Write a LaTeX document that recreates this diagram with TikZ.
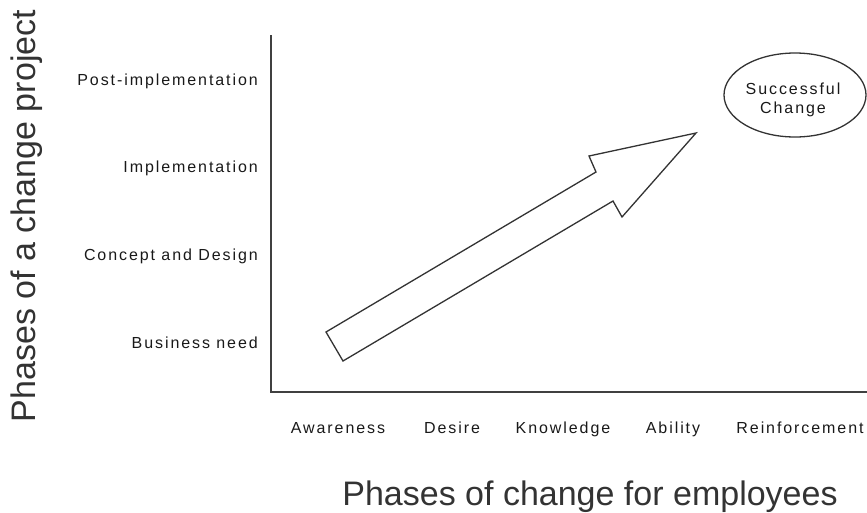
\documentclass[tikz,border=0pt]{standalone}
\usepackage{fontspec}
\setmainfont{Liberation Sans}
\newfontfamily\lblfont[LetterSpace=12]{Liberation Sans}
\usetikzlibrary{shapes.geometric}

\tikzset{
  lbl/.style={font=\lblfont\fontsize{16}{19}\selectfont, text=black!90, inner sep=0pt},
  ttl/.style={font=\fontsize{34}{40}\selectfont, text=black!80, inner sep=0pt},
  axisline/.style={draw=black!75, line width=2pt},
  outline/.style={draw=black!80, line width=1.3pt, fill=white}
}

\begin{document}
\begin{tikzpicture}[x=1pt,y=-1pt]

  \newcommand\Ox{271}
  \newcommand\Oy{392}

  \useasboundingbox (0,0) rectangle (867,512);

  % axes
  \coordinate (ytop) at (\Ox,35);
  \coordinate (orig) at (\Ox,\Oy);
  \coordinate (xend) at (867,\Oy);
  \draw[axisline] (ytop) -- (orig) -- (xend);

  % project phases
  \node[lbl, anchor=base east] (post)    at (258,85)  {Post-implementation};
  \node[lbl, anchor=base east] (impl)    at (258,172) {Implementation};
  \node[lbl, anchor=base east] (concept) at (258,260) {Concept and Design};
  \node[lbl, anchor=base east] (need)    at (258,348) {Business need};

  % employee phases
  \node[lbl, anchor=base] (aware)  at (338,433) {Awareness};
  \node[lbl, anchor=base] (desire) at (452,433) {Desire};
  \node[lbl, anchor=base] (know)   at (563,433) {Knowledge};
  \node[lbl, anchor=base] (able)   at (673,433) {Ability};
  \node[lbl, anchor=base] (reinf)  at (800,433) {Reinforcement};

  % titles
  \node[ttl, rotate=90, anchor=base] (ytitle) at (35,216) {Phases of a change project};
  \node[ttl, anchor=base] (xtitle) at (590,505) {Phases of change for employees};

  % goal
  \node[draw=black!80, line width=1.3pt, ellipse,
        minimum width=142pt, minimum height=84pt] (goal) at (795,95) {};
  \node[lbl, align=center] (goaltxt) at (793,100) {Successful\\Change};

  % big arrow
  \coordinate (tailA) at (326,332);
  \coordinate (tailB) at (343,361);
  \coordinate (tip) at (696,133);
  \draw[outline, line join=miter]
    (tailA) -- (596,172) -- (589,156) -- (tip)
    -- (622,217) -- (613,201) -- (tailB) -- cycle;

\end{tikzpicture}
\end{document}
